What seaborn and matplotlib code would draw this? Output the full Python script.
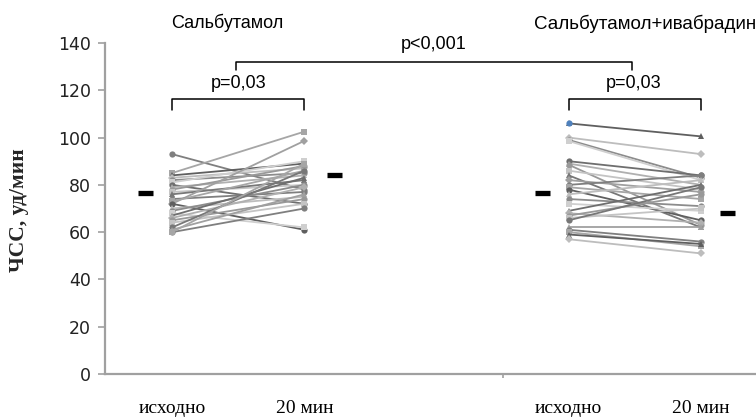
import matplotlib
matplotlib.use("Agg")
import matplotlib.pyplot as plt
import seaborn as sns
import pandas as pd
import numpy as np

# ---- data ----
time_labels = ["исходно", "20 мин", "исходно", "20 мин"]
group_titles = ["Сальбутамол", "Сальбутамол+ивабрадин"]

salb_base = [93, 85, 84, 83, 82, 81, 80, 79, 78, 77, 76, 72, 74, 73, 72, 70, 69, 68, 67, 66, 65, 64, 62, 61, 60, 60]
salb_20 = [78, 102.5, 89, 87, 85, 90, 72, 84, 88, 80, 82, 98.6, 77, 86, 61, 75, 80, 62, 83, 79, 74, 72, 86, 76, 70, 89]

ivab_base = [106, 100, 99, 98.5, 90, 89, 88.5, 86, 84, 82, 80, 79, 78, 76, 74, 72, 69, 68, 67, 66, 65, 62, 61, 60, 59, 57]
ivab_20 = [100.5, 93, 83, 82, 84, 80, 63, 78, 62, 77, 84, 74, 65, 82, 71, 69, 80, 64, 76, 70, 79, 62, 56, 54, 55, 51]

means = [76.4, 84.0, 76.5, 67.9]
p_inner = ["p=0,03", "p=0,03"]
p_outer = "p<0,001"

# ---- build long table ----
pos = [0, 1, 3, 4]
rows = []
for g, (b, a) in enumerate([(salb_base, salb_20), (ivab_base, ivab_20)]):
    for i, (vb, va) in enumerate(zip(b, a)):
        sid = f"g{g}_{i}"
        rows.append(dict(subject=sid, x=pos[2 * g], value=vb))
        rows.append(dict(subject=sid, x=pos[2 * g + 1], value=va))
df = pd.DataFrame(rows)

grays = ['#7f7f7f', '#a6a6a6', '#5f5f5f', '#bdbdbd', '#8c8c8c', '#cfcfcf',
         '#6e6e6e', '#b0b0b0', '#999999', '#c4c4c4', '#777777', '#a0a0a0']
mk = ['o', 's', '^', 'D', 'o', 's', 'o', '^']
subjects = list(dict.fromkeys(df.subject))
palette = {s: grays[i % len(grays)] for i, s in enumerate(subjects)}
markers = {s: mk[i % len(mk)] for i, s in enumerate(subjects)}

sns.set_theme(style="white")
plt.rcParams['font.family'] = ['DejaVu Sans']

fig = plt.figure(figsize=(7.56, 4.19), dpi=100)
ax = fig.add_axes([105 / 756, 45 / 419, 651 / 756, 331 / 419])

sns.lineplot(data=df, x="x", y="value", units="subject", estimator=None,
             hue="subject", palette=palette, style="subject", markers=markers,
             dashes=False, legend=False, linewidth=1.3, markersize=4.5,
             markeredgewidth=0, ax=ax)

# blue highlighted baseline point
ax.scatter([pos[2]], [ivab_base[0]], s=20, color='#4f81bd', zorder=5, linewidths=0)

# mean bars
mean_x = [pos[0] - 0.2, pos[1] + 0.23, pos[2] - 0.2, pos[3] + 0.2]
ax.hlines(means, [m - 0.055 for m in mean_x], [m + 0.055 for m in mean_x],
          colors='black', linewidth=3.8, zorder=6)

ax.set_xlim(-0.507, 4.416)
ax.set_ylim(0, 140)
ax.set_yticks(range(0, 141, 20))
ax.set_xticks(pos)
ax.set_xticklabels(time_labels, fontfamily='Liberation Serif', fontsize=14, color='black')
ax.set_xticks([2.503], minor=True)
ax.tick_params(axis='x', which='major', length=0, pad=19)
ax.tick_params(axis='x', which='minor', length=3, width=1.2, color='#a0a0a0', bottom=True)
ax.tick_params(axis='y', which='major', length=5, width=1.2, color='#a0a0a0',
               labelsize=12.5, labelcolor='#222222', left=True, pad=5)
for s in ['top', 'right']:
    ax.spines[s].set_visible(False)
for s in ['left', 'bottom']:
    ax.spines[s].set_color('#a0a0a0')
    ax.spines[s].set_linewidth(1.6)
ax.set_xlabel("")
ax.set_ylabel("ЧСС, уд/мин", fontfamily='Liberation Serif', fontweight='bold', fontsize=15.5)
ax.yaxis.set_label_coords((29 - 105) / 651, 0.495)

# brackets
kw = dict(color='black', linewidth=1.1, clip_on=False)
ax.plot([pos[0], pos[0], pos[1], pos[1]], [111.6, 116.3, 116.3, 111.6], **kw)
ax.plot([pos[2], pos[2], pos[3], pos[3]], [111.6, 116.3, 116.3, 111.6], **kw)
ax.plot([0.484, 0.484, 3.478, 3.478], [128.6, 132, 132, 128.6], **kw)

tkw = dict(ha='center', va='center', fontfamily='Liberation Sans', color='black', clip_on=False)
ax.text(0.5, 123, p_inner[0], fontsize=13, **tkw)
ax.text(3.49, 123, p_inner[1], fontsize=13, **tkw)
ax.text(1.98, 139.3, p_outer, fontsize=13, **tkw)
ax.text(0.42, 148.5, group_titles[0], fontsize=13, **tkw)
ax.text(3.58, 148.0, group_titles[1], fontsize=13.5, **tkw)

fig.savefig("out.png", dpi=100)
